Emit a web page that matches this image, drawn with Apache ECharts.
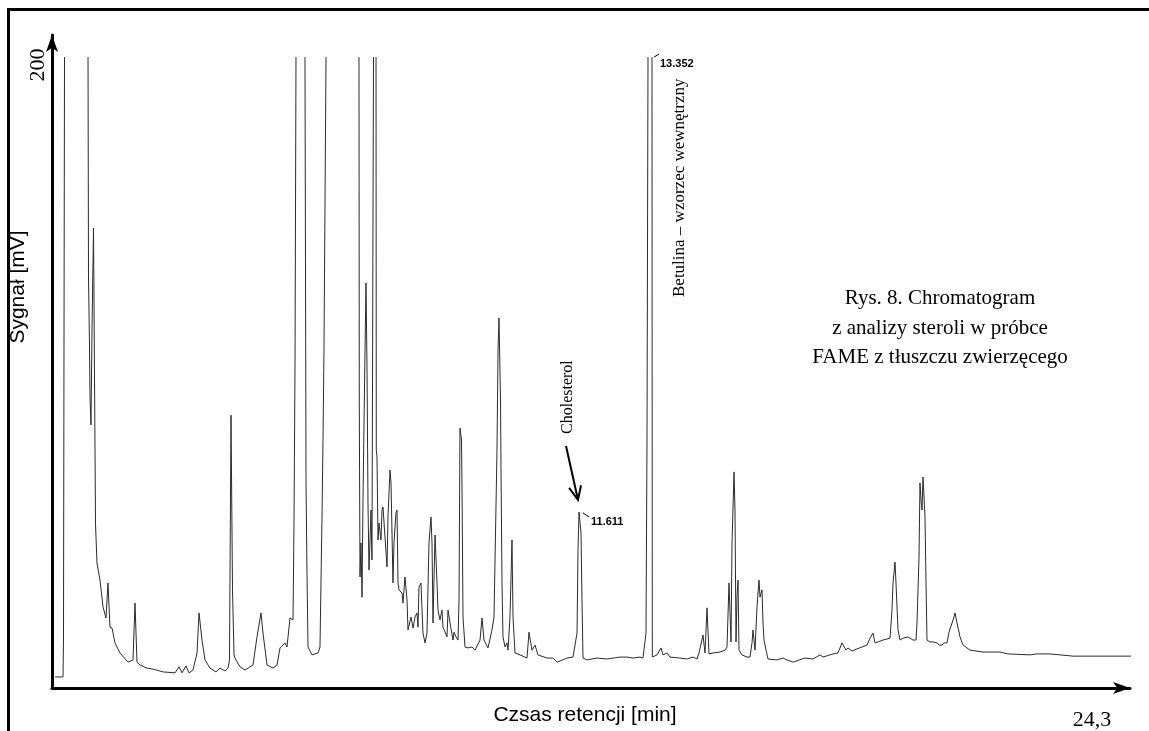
<!DOCTYPE html>
<html><head><meta charset="utf-8">
<script src="https://cdn.jsdelivr.net/npm/echarts@6/dist/echarts.min.js"></script>
<style>html,body{margin:0;padding:0;background:#fff}#c{width:1149px;height:731px}</style>
</head><body><div id="c"></div>
<script>
// Retention time [min], signal [mV]; 200 = off-scale (clipped at top of the plot)
const segStart = [[0.068,3.5],[0.248,3.5],[0.259,15.2],[0.282,200]];
const segEarly = [[0.812,200],[0.823,130.3],[0.845,108.7],[0.857,92.2],[0.879,83.4],[0.902,113.5],[0.936,145.8],[0.958,99.5],[0.981,52.0],[1.014,39.6],[1.082,34.2],[1.150,25.7],[1.217,22.2],[1.262,33.3],[1.307,19.3],[1.353,19.0],[1.420,14.3],[1.533,11.1],[1.713,8.2],[1.826,8.9],[1.871,26.9],[1.916,8.2],[1.984,7.3],[2.141,6.3],[2.277,6.0],[2.502,5.1],[2.773,4.8],[2.863,6.7],[2.930,4.8],[3.021,7.0],[3.088,4.8],[3.178,5.7],[3.269,11.1],[3.314,23.8],[3.381,15.2],[3.449,8.9],[3.562,6.3],[3.697,5.1],[3.787,6.3],[3.900,5.4],[3.967,6.3],[4.001,8.9],[4.035,86.5],[4.069,31.1],[4.103,10.5],[4.125,9.5],[4.238,6.7],[4.351,5.7],[4.531,7.3],[4.621,16.2],[4.711,23.8],[4.756,17.4],[4.847,7.3],[4.982,6.3],[5.072,7.3],[5.140,12.7],[5.252,14.3],[5.297,13.0],[5.365,22.2],[5.433,21.6],[5.455,52.3],[5.478,103.0],[5.500,200]];
const segFame1 = [[5.703,200],[5.726,65.0],[5.748,36.5],[5.771,13.0],[5.861,10.5],[5.996,11.1],[6.041,13.0],[6.086,54.2],[6.109,78.6],[6.131,107.1],[6.177,200]];
const segFame2 = [[6.920,200],[6.927,90.3],[6.943,35.2],[6.965,46.0],[6.988,28.8],[7.011,60.5],[7.056,107.1],[7.078,128.4],[7.101,101.7],[7.123,58.6],[7.146,37.4],[7.191,56.4],[7.213,40.6],[7.247,200]];
const segMiddle = [[7.304,200],[7.310,75.4],[7.326,73.2],[7.349,46.9],[7.371,52.3],[7.416,46.9],[7.439,56.4],[7.461,57.4],[7.506,47.9],[7.552,38.4],[7.574,54.2],[7.619,69.1],[7.642,65.0],[7.687,33.3],[7.709,46.0],[7.754,55.5],[7.777,56.4],[7.800,33.3],[7.822,31.1],[7.890,30.1],[7.912,26.9],[7.957,35.2],[8.002,27.9],[8.025,18.4],[8.093,22.5],[8.138,19.0],[8.183,22.5],[8.228,23.8],[8.250,19.3],[8.273,32.0],[8.318,33.3],[8.341,24.7],[8.363,17.4],[8.408,14.3],[8.453,17.4],[8.498,46.0],[8.543,54.2],[8.566,46.0],[8.589,20.6],[8.634,48.5],[8.679,33.3],[8.701,24.7],[8.746,21.6],[8.791,24.7],[8.814,19.3],[8.904,16.2],[8.927,24.7],[8.972,20.6],[9.039,15.2],[9.062,17.7],[9.107,16.2],[9.152,15.2],[9.175,27.9],[9.197,82.4],[9.231,78.6],[9.242,65.0],[9.265,22.5],[9.310,13.0],[9.377,12.7],[9.468,13.0],[9.535,12.0],[9.648,15.2],[9.693,22.2],[9.738,15.2],[9.828,12.7],[9.918,18.4],[9.964,22.5],[10.031,75.4],[10.054,107.1],[10.076,117.3],[10.110,91.3],[10.121,70.0],[10.144,33.3],[10.166,16.2],[10.212,13.0],[10.257,14.3],[10.279,12.0],[10.324,22.5],[10.369,46.9],[10.392,22.5],[10.437,11.1],[10.550,10.5],[10.707,9.5],[10.753,17.7],[10.820,12.0],[10.888,13.6],[10.955,10.5],[11.158,9.5],[11.294,9.5],[11.384,8.2],[11.609,9.5],[11.744,9.8],[11.835,17.4],[11.857,43.7],[11.880,55.8],[11.925,49.1],[11.947,27.9],[11.970,9.5],[12.060,8.9],[12.285,9.5],[12.511,9.2],[12.804,9.8],[12.962,9.8],[13.097,9.5],[13.255,9.8],[13.322,9.5],[13.390,17.4],[13.412,77.7],[13.435,200]];
const segLate = [[13.525,200],[13.532,9.8],[13.638,10.5],[13.728,12.7],[13.773,10.5],[13.863,11.1],[13.931,9.8],[14.156,9.5],[14.314,9.2],[14.449,9.8],[14.540,9.2],[14.585,11.1],[14.675,16.8],[14.720,11.1],[14.765,25.4],[14.810,10.8],[14.900,11.1],[15.058,11.4],[15.171,12.0],[15.216,13.0],[15.261,33.3],[15.306,14.6],[15.329,46.0],[15.374,68.5],[15.396,56.4],[15.419,14.6],[15.441,28.8],[15.464,34.2],[15.486,12.0],[15.554,10.5],[15.667,9.8],[15.734,9.8],[15.779,14.3],[15.802,18.4],[15.847,12.0],[15.892,25.7],[15.937,34.2],[15.960,28.8],[16.005,31.1],[16.027,20.6],[16.050,15.2],[16.095,12.0],[16.140,9.2],[16.343,8.9],[16.478,9.5],[16.568,8.9],[16.704,8.2],[16.974,9.5],[17.154,9.2],[17.312,10.5],[17.380,9.8],[17.605,10.8],[17.718,11.1],[17.808,14.3],[17.831,14.3],[17.898,12.0],[17.943,12.7],[18.034,11.7],[18.146,12.4],[18.259,13.0],[18.372,13.6],[18.439,15.8],[18.507,17.4],[18.552,14.3],[18.620,14.6],[18.732,15.2],[18.890,15.8],[18.935,24.7],[18.958,33.3],[19.003,39.9],[19.025,33.3],[19.071,18.4],[19.116,15.2],[19.183,15.8],[19.296,16.2],[19.409,15.2],[19.476,15.2],[19.499,20.6],[19.544,41.5],[19.566,65.0],[19.589,59.6],[19.612,56.4],[19.634,66.9],[19.679,54.2],[19.702,33.3],[19.724,15.2],[19.792,14.6],[19.859,14.6],[19.950,14.3],[19.995,13.6],[20.062,13.6],[20.107,14.3],[20.175,14.3],[20.220,17.7],[20.288,20.6],[20.333,22.5],[20.355,23.8],[20.401,20.6],[20.468,16.2],[20.536,13.6],[20.694,12.0],[20.987,11.4],[21.370,11.4],[21.550,10.8],[22.046,10.5],[22.204,10.8],[22.497,10.8],[22.722,10.5],[23.015,10.1],[23.624,10.1],[24.413,10.1]];

const segments = [segStart, segEarly, segFame1, segFame2, segMiddle, segLate];
const yTickLabels = [200];
const xEndLabel = '24,3';
const cholesterolPeak = [11.880, 55.8];
const betulinaPeak = [13.480, 200];
const peakTimeLabels = ['11.611', '13.352'];

// join segments, breaking the line where the signal is off-scale
const trace = [];
segments.forEach((s, i) => {
  if (i > 0) trace.push([(trace[trace.length-1][0] + s[0][0]) / 2, '-']);
  s.forEach(p => trace.push(p));
});

const SERIF = '"Liberation Serif", "Times New Roman", serif';
const SANS = '"Liberation Sans", Arial, sans-serif';

const chart = echarts.init(document.getElementById('c'));
const option = {
  animation: false,
  backgroundColor: '#fff',
  grid: {left: 52, right: 19, top: 35, bottom: 43},
  xAxis: {
    type: 'value', min: 0, max: 24.3,
    name: 'Czsas retencji [min]', nameLocation: 'middle', nameGap: 17,
    nameTextStyle: {fontFamily: SANS, fontSize: 21, color: '#000', padding: [0, 12, 0, 0]},
    axisLine: {show: true, lineStyle: {color: '#000', width: 3}, symbol: ['none', 'arrow'], symbolSize: [9, 17]},
    axisTick: {show: false}, axisLabel: {show: false}, splitLine: {show: false}
  },
  yAxis: {
    type: 'value', min: 0, max: 207, interval: 200,
    axisLine: {show: true, lineStyle: {color: '#000', width: 3}, symbol: ['none', 'arrow'], symbolSize: [9, 17]},
    axisTick: {show: false}, splitLine: {show: false},
    axisLabel: {
      rotate: 90, margin: 3, fontFamily: SERIF, fontSize: 22, color: '#000',
      padding: [0, 16, 0, 0],
      formatter: v => yTickLabels.indexOf(v) >= 0 ? String(v) : ''
    }
  },
  series: [{
    type: 'line', data: trace, showSymbol: false, clip: false, connectNulls: false,
    lineStyle: {color: '#2b2b2b', width: 1}, silent: true
  }]
};
chart.setOption(option);

const toPx = p => chart.convertToPixel({xAxisIndex: 0, yAxisIndex: 0}, p);
const pc = toPx(cholesterolPeak);
const pb = toPx(betulinaPeak);

// arrow toward cholesterol peak
const a0 = [pc[0] - 13, pc[1] - 66], a1 = [pc[0] - 1, pc[1] - 12];
const ang = Math.atan2(a1[1] - a0[1], a1[0] - a0[0]);
const hl = 15, ha = 0.42;
const h1 = [a1[0] - hl * Math.cos(ang - ha), a1[1] - hl * Math.sin(ang - ha)];
const h2 = [a1[0] - hl * Math.cos(ang + ha), a1[1] - hl * Math.sin(ang + ha)];

chart.setOption({
  graphic: [
    {type: 'rect', id: 'frame', silent: true, shape: {x: 8.5, y: 9.5, width: 1300, height: 900},
     style: {fill: 'none', stroke: '#000', lineWidth: 3}},
    {type: 'text', id: 'ytitle', x: 18, y: 287, rotation: Math.PI / 2,
     style: {text: 'Sygnał [mV]', font: '21px ' + SANS, fill: '#000', textAlign: 'center', textVerticalAlign: 'middle'}},
    {type: 'text', id: 'xend', x: 1092, y: 720,
     style: {text: xEndLabel, font: '22px ' + SERIF, fill: '#000', textAlign: 'center', textVerticalAlign: 'middle'}},
    {type: 'text', id: 'caption', x: 940, y: 328,
     style: {text: 'Rys. 8. Chromatogram\nz analizy steroli w próbce\nFAME z tłuszczu zwierzęcego',
             font: '21px ' + SERIF, lineHeight: 29.5, fill: '#000', textAlign: 'center', textVerticalAlign: 'middle'}},
    {type: 'text', id: 'betulina', x: pb[0] + 30, y: 297, rotation: Math.PI / 2,
     style: {text: 'Betulina – wzorzec wewnętrzny', font: '17px ' + SERIF, fill: '#000', textAlign: 'left', textVerticalAlign: 'middle'}},
    {type: 'text', id: 'chol', x: pc[0] - 11, y: pc[1] - 78, rotation: Math.PI / 2,
     style: {text: 'Cholesterol', font: '16px ' + SERIF, fill: '#000', textAlign: 'left', textVerticalAlign: 'middle'}},
    {type: 'polyline', id: 'arrowShaft', shape: {points: [a0, a1]}, style: {stroke: '#000', lineWidth: 2}},
    {type: 'polyline', id: 'arrowHead', shape: {points: [h1, a1, h2]}, style: {stroke: '#000', lineWidth: 2, fill: 'none'}},
    {type: 'line', id: 'tick1', shape: {x1: pc[0] + 4, y1: pc[1] + 1, x2: pc[0] + 10, y2: pc[1] + 5}, style: {stroke: '#000', lineWidth: 1}},
    {type: 'text', id: 'lab1', x: pc[0] + 12, y: pc[1] + 10,
     style: {text: peakTimeLabels[0], font: 'bold 11px ' + SANS, fill: '#000', textAlign: 'left', textVerticalAlign: 'middle'}},
    {type: 'line', id: 'tick2', shape: {x1: pb[0] + 4, y1: pb[1], x2: pb[0] + 9, y2: pb[1] - 3}, style: {stroke: '#000', lineWidth: 1}},
    {type: 'text', id: 'lab2', x: pb[0] + 10, y: pb[1] + 7,
     style: {text: peakTimeLabels[1], font: 'bold 11px ' + SANS, fill: '#000', textAlign: 'left', textVerticalAlign: 'middle'}}
  ]
});
</script>
</body></html>
